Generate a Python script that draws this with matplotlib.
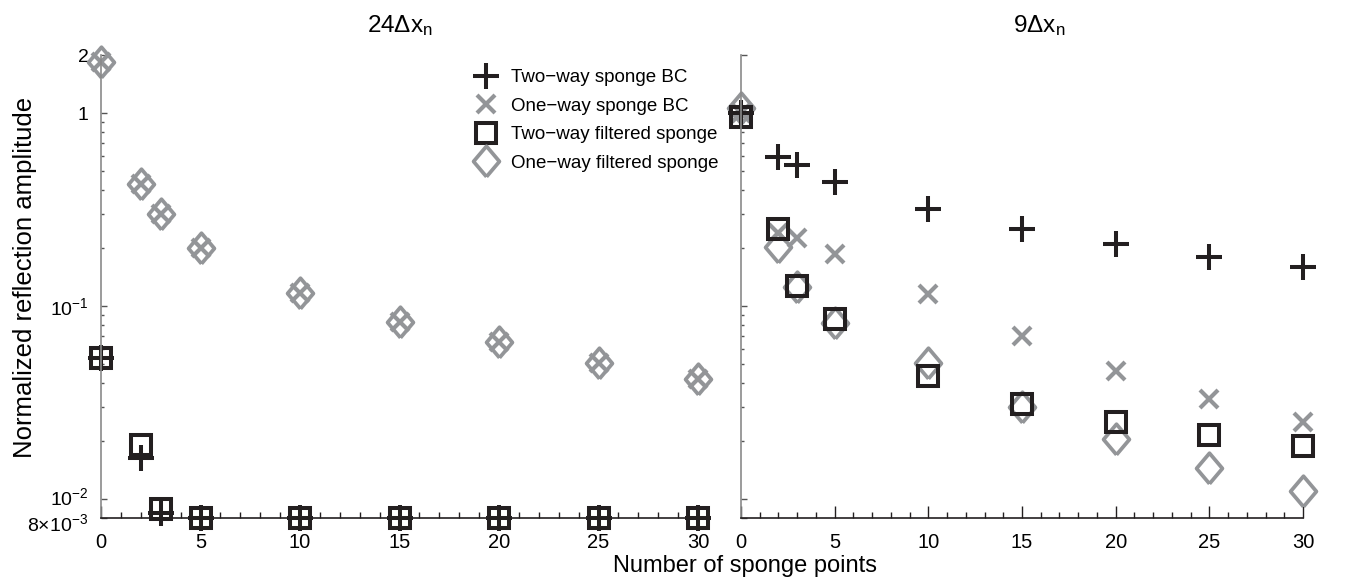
import numpy as np
import matplotlib
matplotlib.use('Agg')
import matplotlib.pyplot as plt
import matplotlib.transforms as mtransforms

plt.rcParams['font.family'] = ['Liberation Sans', 'DejaVu Sans']
plt.rcParams['mathtext.fontset'] = 'custom'
plt.rcParams['mathtext.rm'] = 'Liberation Sans'
plt.rcParams['mathtext.it'] = 'Liberation Sans:italic'

## Data
sponge_pts = [0, 2, 3, 5, 10, 15, 20, 25, 30]

# 24 dx_n panel
two_way_bc_24 = [0.054, 0.0163, 0.0085, 0.008, 0.008, 0.008, 0.008, 0.008, 0.008]
one_way_bc_24 = [1.85, 0.43, 0.30, 0.20, 0.117, 0.083, 0.065, 0.051, 0.042]
two_way_filt_24 = [0.054, 0.0192, 0.0089, 0.008, 0.008, 0.008, 0.008, 0.008, 0.008]
one_way_filt_24 = [1.85, 0.43, 0.30, 0.20, 0.117, 0.083, 0.065, 0.051, 0.042]

# 9 dx_n panel
two_way_bc_9 = [1.0, 0.59, 0.54, 0.44, 0.32, 0.25, 0.21, 0.18, 0.16]
one_way_bc_9 = [1.0, 0.24, 0.226, 0.187, 0.115, 0.070, 0.046, 0.033, 0.025]
two_way_filt_9 = [0.95, 0.25, 0.128, 0.086, 0.0435, 0.031, 0.025, 0.0214, 0.0188]
one_way_filt_9 = [1.06, 0.203, 0.125, 0.082, 0.051, 0.030, 0.0205, 0.0145, 0.011]

labels = ['Two\u2212way sponge BC', 'One\u2212way sponge BC',
          'Two\u2212way filtered sponge', 'One\u2212way filtered sponge']
titles = ['24\u0394x$_{\\rm n}$', '9\u0394x$_{\\rm n}$']

yticks = [8e-3, 1e-2, 1e-1, 1, 2]
yticklabels = ['$8{\\times}10^{-3}$', '$10^{-2}$', '$10^{-1}$', '1', '2']
yminor = [k * 1e-2 for k in range(2, 10)] + [k * 1e-1 for k in range(2, 10)]

BLACK = '#231f20'
GRAY = '#939598'
DIAMOND = [(0, -1.18), (1, 0), (0, 1.18), (-1, 0), (0, -1.18)]

fig = plt.figure(figsize=(13.51, 5.77), dpi=100)
W, H = 1351., 577.
ax_l = fig.add_axes([101 / W, 1 - 518 / H, 597 / W, 463 / H])
ax_r = fig.add_axes([741 / W, 1 - 518 / H, 562 / W, 463 / H])
ax_r.set_facecolor('none')
ax_l.set_zorder(2)
ax_l.set_facecolor('none')


def _draw(ax, tw, ow, twf, owf):
    kw = dict(linestyle='none', clip_on=False)
    ax.plot(sponge_pts, owf, marker=DIAMOND, ms=22, mfc='none', mec=GRAY, mew=2.7, label=labels[3], **kw)
    ax.plot(sponge_pts, ow, marker='x', ms=12.5, mec=GRAY, mew=3.0, label=labels[1], **kw)
    ax.plot(sponge_pts, twf, marker='s', ms=14.5, mfc='none', mec=BLACK, mew=2.9, label=labels[2], **kw)
    ax.plot(sponge_pts, tw, marker='+', ms=18.5, mec=BLACK, mew=2.9, label=labels[0], **kw)


def _style(ax, ylabels=True):
    ax.set_yscale('log')
    ax.set_xlim(0, 30)
    ax.set_ylim(8e-3, 2)
    ax.set_xticks(np.arange(0, 31, 5))
    ax.set_xticks(np.arange(0, 31, 1), minor=True)
    ax.set_yticks(yticks)
    ax.set_yticks(yminor, minor=True)
    if ylabels:
        ax.set_yticklabels(yticklabels)
    else:
        ax.set_yticklabels([])
    for s in ['top', 'right']:
        ax.spines[s].set_visible(False)
    ax.spines['left'].set_color('#8a8a8a')
    ax.spines['left'].set_linewidth(1.2)
    ax.spines['bottom'].set_color(BLACK)
    ax.spines['bottom'].set_linewidth(1.2)
    ax.tick_params(axis='x', which='major', direction='in', length=9, width=1.0,
                   color=BLACK, labelsize=14.5, pad=11)
    ax.tick_params(axis='x', which='minor', direction='in', length=4.5, width=1.0, color=BLACK)
    ax.tick_params(axis='y', which='major', direction='in', length=4, width=1.0,
                   color='#555555', labelsize=14, pad=9)
    ax.tick_params(axis='y', which='minor', direction='in', length=2.5, width=1.0, color='#555555')


_draw(ax_l, two_way_bc_24, one_way_bc_24, two_way_filt_24, one_way_filt_24)
_draw(ax_r, two_way_bc_9, one_way_bc_9, two_way_filt_9, one_way_filt_9)
_style(ax_l)
_style(ax_r, ylabels=False)

# pull the two crowded bottom labels apart a little
tl = ax_l.get_yticklabels()
tl[0].set_transform(tl[0].get_transform() + mtransforms.ScaledTranslation(0, -3 / 72, fig.dpi_scale_trans))
tl[1].set_transform(tl[1].get_transform() + mtransforms.ScaledTranslation(0, 2 / 72, fig.dpi_scale_trans))

ax_l.text(0.5, 1.05, titles[0], transform=ax_l.transAxes, ha='center', va='baseline', fontsize=17.5)
ax_r.text(0.53, 1.05, titles[1], transform=ax_r.transAxes, ha='center', va='baseline', fontsize=17.5)

fig.text(25 / W, 1 - 277 / H, 'Normalized reflection amplitude', rotation=90,
         ha='center', va='center', fontsize=18.5)
fig.text(745 / W, 1 - 572 / H, 'Number of sponge points', ha='center', va='baseline', fontsize=17)

h, l = ax_l.get_legend_handles_labels()
order = [3, 1, 2, 0]
leg = ax_l.legend([h[i] for i in order], [l[i] for i in order], loc='upper left',
                  bbox_to_anchor=(0.6285, 0.969), frameon=False, numpoints=1,
                  fontsize=13.5, handlelength=1.0, handletextpad=0.88,
                  labelspacing=0.6, borderaxespad=0, borderpad=0)
leg.set_zorder(10)

fig.savefig('out.png', dpi=100)
